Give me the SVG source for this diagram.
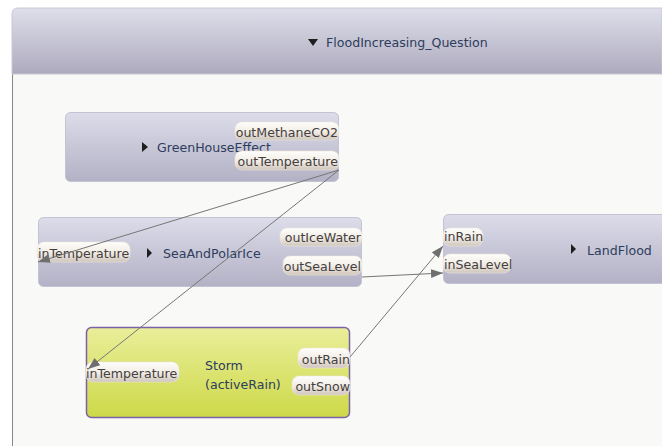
<svg xmlns="http://www.w3.org/2000/svg" width="662" height="446" viewBox="0 0 662 446">
  <defs>
    <linearGradient id="gHeader" x1="0" y1="0" x2="0" y2="1">
      <stop offset="0" stop-color="#dedfeb"/>
      <stop offset="1" stop-color="#adaabd"/>
    </linearGradient>
    <linearGradient id="gNode" x1="0" y1="0" x2="0" y2="1">
      <stop offset="0" stop-color="#dcdcea"/>
      <stop offset="1" stop-color="#b3b1c5"/>
    </linearGradient>
    <linearGradient id="gStorm" x1="0" y1="0" x2="0" y2="1">
      <stop offset="0" stop-color="#eaee9a"/>
      <stop offset="1" stop-color="#cdd948"/>
    </linearGradient>
    <linearGradient id="gPort" x1="0" y1="0" x2="0" y2="1">
      <stop offset="0" stop-color="#fffefb"/>
      <stop offset="0.55" stop-color="#f1ece5"/>
      <stop offset="1" stop-color="#cfc6bc"/>
    </linearGradient>
    <marker id="arrow" markerUnits="userSpaceOnUse" markerWidth="13" markerHeight="10" refX="12" refY="4.5" orient="auto">
      <path d="M0,0 L12,4.5 L0,9 z" fill="#6f6f6f"/>
    </marker>
  </defs>
  <style>
    .node { fill: url(#gNode); stroke: #c3c3d2; stroke-width: 1; }
    .storm { fill: url(#gStorm); stroke: #7a62a6; stroke-width: 1.5; }
    .title { font-family: "DejaVu Sans", sans-serif; font-size: 12.6px; fill: #2e3d5c; }
    .port { fill: url(#gPort); stroke: #ece6de; stroke-width: 0.6; }
    .plabel { font-family: "DejaVu Sans", sans-serif; font-size: 12.6px; fill: #453f3f; }
    .tri { fill: #1e1e1e; }
    .edge { fill: none; stroke: #767676; stroke-width: 1; }
  </style>

  <!-- canvas -->
  <rect x="0" y="0" width="662" height="446" fill="#ffffff"/>
  <rect x="12" y="74" width="650" height="372" fill="#f9f9f7"/>
  <line x1="12.5" y1="74" x2="12.5" y2="446" stroke="#8a8684" stroke-width="1"/>

  <!-- container header -->
  <g id="FloodIncreasing_Question">
    <path d="M12,74 L12,14 Q12,8 18,8 L662,8 L662,74 z" fill="url(#gHeader)" stroke="#c8c8d4" stroke-width="1"/>
    <polygon class="tri" points="308,39 318,39 313,46"/>
    <text class="title" x="326" y="47">FloodIncreasing_Question</text>
  </g>

  <!-- GreenHouseEffect -->
  <g id="GreenHouseEffect">
    <rect class="node" x="65.5" y="112.5" width="273" height="69" rx="5"/>
    <polygon class="tri" points="142,142 148,147 142,152"/>
    <text class="title" x="157" y="152">GreenHouseEffect</text>
    <rect class="port" x="235" y="122" width="104" height="18" rx="7"/>
    <text class="plabel" x="338" y="137" text-anchor="end">outMethaneCO2</text>
    <rect class="port" x="235" y="151" width="104" height="19" rx="7"/>
    <text class="plabel" x="338" y="166" text-anchor="end">outTemperature</text>
  </g>

  <!-- SeaAndPolarIce -->
  <g id="SeaAndPolarIce">
    <rect class="node" x="38.5" y="217.5" width="323" height="69" rx="5"/>
    <polygon class="tri" points="147,248 152,253 147,258"/>
    <text class="title" x="163" y="258">SeaAndPolarIce</text>
    <rect class="port" x="37" y="242" width="93" height="20" rx="7"/>
    <text class="plabel" x="38" y="258">inTemperature</text>
    <rect class="port" x="280" y="228" width="82" height="18" rx="7"/>
    <text class="plabel" x="361" y="242" text-anchor="end">outIceWater</text>
    <rect class="port" x="283" y="256" width="79" height="19" rx="7"/>
    <text class="plabel" x="361" y="271" text-anchor="end">outSeaLevel</text>
  </g>

  <!-- LandFlood -->
  <g id="LandFlood">
    <rect class="node" x="443.5" y="214.5" width="230" height="69" rx="5"/>
    <polygon class="tri" points="571,244 576,249 571,254"/>
    <text class="title" x="587" y="255">LandFlood</text>
    <rect class="port" x="443" y="228" width="40" height="18" rx="7"/>
    <text class="plabel" x="444" y="241">inRain</text>
    <rect class="port" x="443" y="254" width="68" height="19" rx="7"/>
    <text class="plabel" x="444" y="269">inSeaLevel</text>
  </g>

  <!-- Storm -->
  <g id="Storm">
    <rect class="storm" x="86.5" y="327.5" width="263" height="90" rx="5"/>
    <text class="title" x="205" y="370">Storm</text>
    <text class="title" x="205" y="389">(activeRain)</text>
    <rect class="port" x="86" y="362" width="93" height="20" rx="7"/>
    <text class="plabel" x="86" y="378">inTemperature</text>
    <rect class="port" x="298" y="348" width="52" height="20" rx="7"/>
    <text class="plabel" x="350" y="364" text-anchor="end">outRain</text>
    <rect class="port" x="292" y="376" width="58" height="19" rx="7"/>
    <text class="plabel" x="350" y="391" text-anchor="end">outSnow</text>
  </g>

  <!-- connectors -->
  <g id="connectors">
    <line class="edge" x1="339" y1="170" x2="38" y2="262" marker-end="url(#arrow)"/>
    <line class="edge" x1="339" y1="170" x2="88" y2="369" marker-end="url(#arrow)"/>
    <polyline class="edge" points="362,277 382,276 443,273" marker-end="url(#arrow)"/>
    <line class="edge" x1="350" y1="357" x2="443" y2="246" marker-end="url(#arrow)"/>
  </g>
</svg>
